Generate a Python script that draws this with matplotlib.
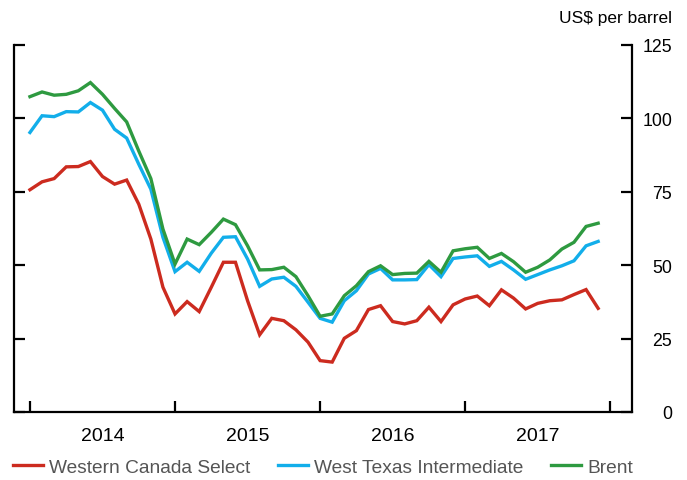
import matplotlib
matplotlib.use("Agg")
import matplotlib.pyplot as plt
from matplotlib.ticker import FixedLocator, NullFormatter, FixedFormatter

# Monthly averages, Jan 2014 - Dec 2017 (US$ per barrel)
wcs = [75.7, 78.4, 79.5, 83.5, 83.6, 85.3, 80.2, 77.6, 79.0, 70.8, 58.9, 42.5,
       33.4, 37.6, 34.2, 42.5, 51.0, 51.0, 37.9, 26.3, 31.9, 31.1, 28.0, 23.8,
       17.5, 17.0, 25.1, 27.7, 34.9, 36.2, 30.8, 30.0, 31.1, 35.7, 30.8, 36.5,
       38.5, 39.5, 36.2, 41.6, 38.8, 35.1, 37.0, 37.9, 38.2, 40.0, 41.7, 35.3]
wti = [95.2, 100.9, 100.6, 102.3, 102.2, 105.4, 102.8, 96.3, 93.3, 84.4, 75.9, 59.5,
       47.8, 51.0, 47.9, 54.1, 59.5, 59.7, 52.1, 42.8, 45.3, 45.9, 42.8, 37.4,
       31.9, 30.6, 37.9, 41.3, 47.0, 48.9, 45.0, 45.0, 45.1, 50.2, 46.1, 52.3,
       52.8, 53.2, 49.6, 51.3, 48.4, 45.2, 46.8, 48.4, 49.8, 51.5, 56.6, 58.1]
brent = [107.4, 109.0, 107.9, 108.2, 109.4, 112.2, 108.2, 103.4, 98.8, 88.9, 79.5, 62.3,
         50.4, 58.9, 57.0, 61.2, 65.7, 63.8, 56.6, 48.4, 48.5, 49.3, 46.1, 39.6,
         32.6, 33.4, 39.6, 43.0, 47.8, 49.8, 46.8, 47.2, 47.3, 51.3, 47.6, 54.9,
         55.6, 56.1, 52.3, 54.0, 51.2, 47.6, 49.3, 51.8, 55.5, 57.8, 63.2, 64.3]
years = ["2014", "2015", "2016", "2017"]
series_names = ["Western Canada Select", "West Texas Intermediate", "Brent"]
colors = ["#cc2b1f", "#12aeea", "#2e9a40"]
yticks = [0, 25, 50, 75, 100, 125]

plt.rcParams['font.family'] = ['Liberation Sans', 'DejaVu Sans']

fig = plt.figure(figsize=(6.87, 4.81), dpi=100)
ax = fig.add_axes([14/687, 1-413/481, (632-14)/687, (413-46)/481])

months = list(range(len(wcs)))
for vals, name, c in zip([wcs, wti, brent], series_names, colors):
    ax.plot(months, vals, color=c, lw=2.4, label=name, solid_joinstyle='miter')

ax.set_xlim(-1.32, 49.8)
ax.set_ylim(0, 125)

for s in ['left', 'right', 'bottom']:
    ax.spines[s].set_linewidth(1.6)
ax.spines['top'].set_visible(False)

# x axis: ticks at year boundaries, labels mid-year
ax.xaxis.set_major_locator(FixedLocator([12 * i for i in range(len(years) + 1)]))
ax.xaxis.set_major_formatter(NullFormatter())
ax.xaxis.set_minor_locator(FixedLocator([12 * i + 6 for i in range(len(years))]))
ax.xaxis.set_minor_formatter(FixedFormatter(years))
ax.tick_params(axis='x', which='major', direction='in', length=8, width=1.6)
ax.tick_params(axis='x', which='minor', length=0, pad=11, labelsize=14)

# y axis: ticks both sides, labels on right, right-aligned
ax.set_yticks(yticks)
ax.tick_params(axis='y', direction='in', length=8, width=1.6, left=True, right=True,
               labelleft=False, labelright=True, labelsize=12.8, pad=28.8)
for lab in ax.get_yticklabels():
    lab.set_horizontalalignment('right')

fig.text(672/687, 1-18/481, "US$ per barrel", ha='right', va='center', fontsize=12.5)

leg = fig.legend(loc='center left', bbox_to_anchor=(13/687, 1-468/481), ncol=3,
                 frameon=False, fontsize=13.8, handlelength=1.56, handletextpad=0.31,
                 columnspacing=1.46, borderpad=0, borderaxespad=0)
for t in leg.get_texts():
    t.set_color('#555555')

fig.savefig("out.png", dpi=100)
